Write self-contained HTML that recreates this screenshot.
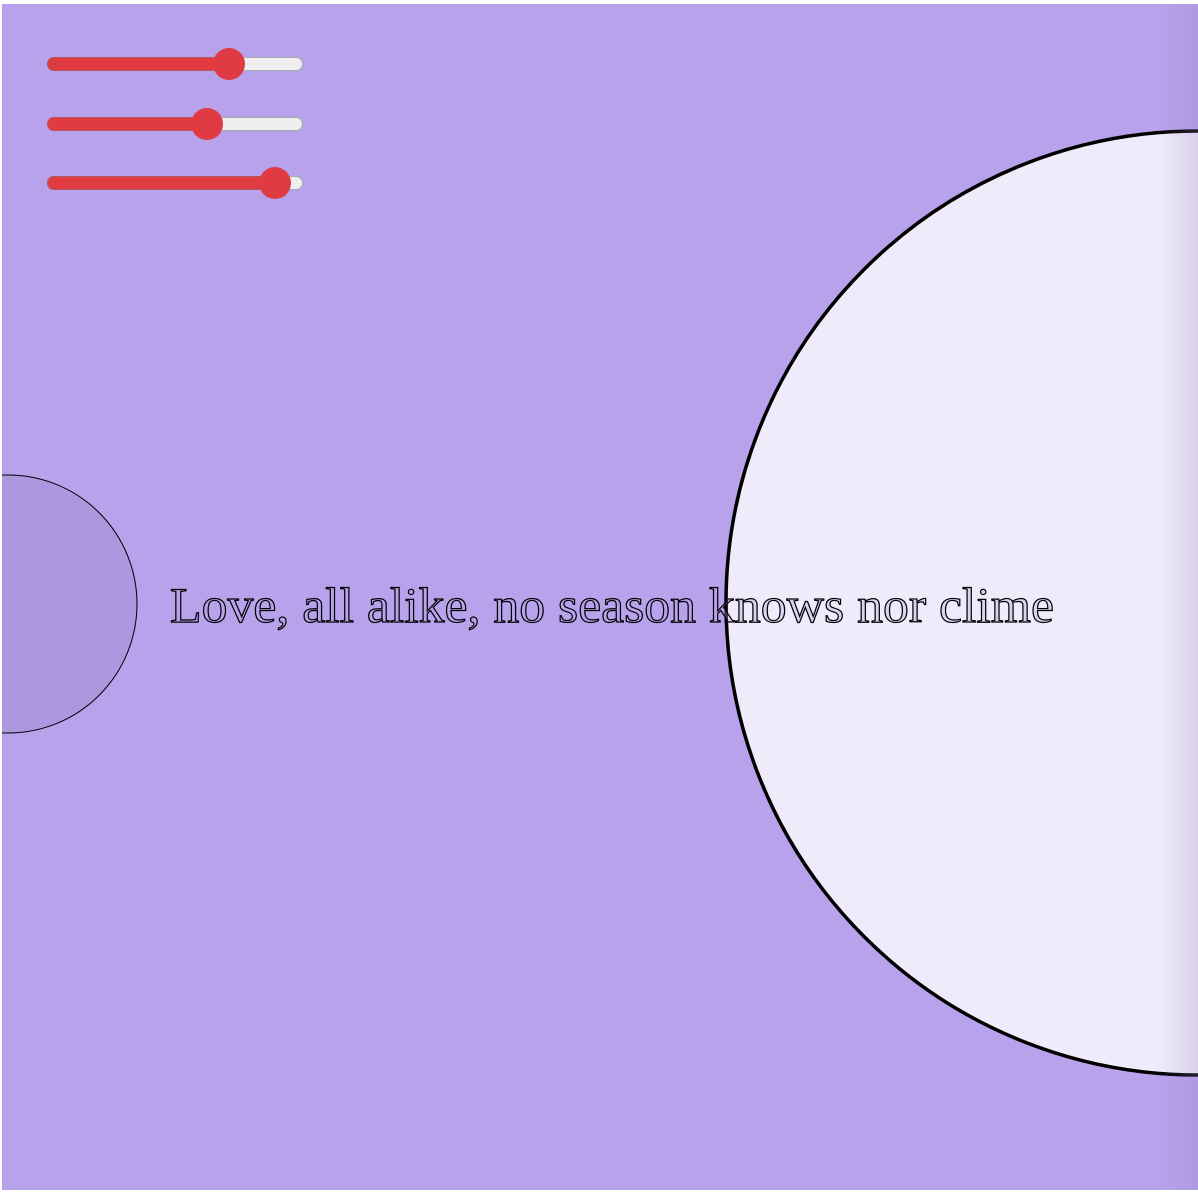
<!DOCTYPE html>
<html><head><meta charset="utf-8"><style>
html,body{margin:0;padding:0;background:#fff;width:1198px;height:1192px;overflow:hidden}
#stage{position:absolute;left:2px;top:4px;width:1196px;height:1186px;background:#b8a2ec;overflow:hidden}
.slider{position:absolute;left:45px;width:256px;height:14px}
.track{position:absolute;left:0;top:0;width:254px;height:12px;border:1px solid #aaa;border-radius:8px;background:#efefef}
.fill{position:absolute;left:0;top:0;height:14px;border-radius:8px;background:#e03a42;box-shadow:inset 0 0 0 1px #b05a60}
.thumb{position:absolute;top:-9px;width:32px;height:32px;border-radius:50%;background:#e03a42;margin-left:-16px}
#edge{position:absolute;right:0;top:0;width:40px;height:1186px;background:linear-gradient(to right,rgba(160,140,200,0) 0%,rgba(150,130,190,0.25) 100%);pointer-events:none}
.poem{font-family:"Liberation Serif","Times New Roman",serif}
</style></head><body>
<div id="stage">
<svg width="1196" height="1186" style="position:absolute;left:0;top:0">
<circle cx="1196" cy="599" r="472" fill="#efebfa" stroke="#000" stroke-width="3.5"/>
<circle cx="6" cy="600" r="129" fill="#ad98e0" stroke="#000" stroke-width="1"/>
<text class="poem" x="168" y="618" font-size="50" textLength="884" lengthAdjust="spacingAndGlyphs" fill="rgba(184,162,236,0.35)" stroke="#000" stroke-width="1.2">Love, all alike, no season knows nor clime</text>
</svg>
<div id="edge"></div>
<div class="slider" style="top:53px"><div class="track"></div><div class="fill" style="width:182px"></div><div class="thumb" style="left:182px"></div></div>
<div class="slider" style="top:113px"><div class="track"></div><div class="fill" style="width:160px"></div><div class="thumb" style="left:160px"></div></div>
<div class="slider" style="top:172px"><div class="track"></div><div class="fill" style="width:228px"></div><div class="thumb" style="left:228px"></div></div>
</div>
</body></html>
